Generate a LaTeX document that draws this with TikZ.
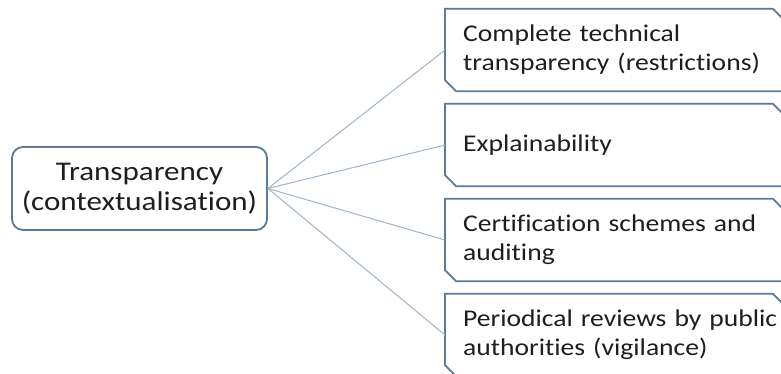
\documentclass[tikz,border=0pt]{standalone}
\usepackage{fontspec}
\setmainfont{Carlito}[FakeStretch=1.15,Ligatures={NoCommon}]
\usetikzlibrary{calc}
\definecolor{boxc}{HTML}{5A7A98}
\definecolor{connc}{HTML}{9EB4C6}
\definecolor{txt}{HTML}{1E1E1E}
\begin{document}
\begin{tikzpicture}[x=1pt,y=-1pt,
  srcbox/.style={draw=boxc, line width=1.8pt, rounded corners=11pt,
    minimum width=255pt, minimum height=83pt, align=center,
    font=\fontsize{27}{30}\selectfont, text=txt, inner sep=0pt},
  leaf/.style={anchor=west, minimum height=82pt, inner xsep=18pt, inner ysep=0pt,
    text width=320pt, align=left, font=\fontsize{24}{29}\selectfont, text=txt},
  conn/.style={draw=connc, line width=1pt},
  leafline/.style={draw=boxc, line width=1.8pt, line join=miter}]
\useasboundingbox (0,0) rectangle (781,374);
\clip (0,0) rectangle (781,374);
\node[srcbox] (src) at (139.5,188.5) {Transparency\\(contextualisation)};
\node[leaf] (b1) at (445,50) {Complete technical\\transparency (restrictions)};
\node[leaf] (b2) at (445,145) {Explainability};
\node[leaf] (b3) at (445,240) {Certification schemes and\\auditing};
\node[leaf] (b4) at (445,335) {Periodical reviews by public\\authorities (vigilance)};
\foreach \b in {b1,b2,b3,b4}{
  \draw[leafline] (\b.north west) -- ($(\b.north west)+(328,0)$) -- ($(\b.north west)+(340,12)$)
    -- ($(\b.south west)+(340,0)$) -- ($(\b.south west)+(11,0)$) -- ($(\b.south west)+(0,-11)$) -- cycle;
  \draw[conn] (src.east) -- (\b.west);
}
\end{tikzpicture}
\end{document}
